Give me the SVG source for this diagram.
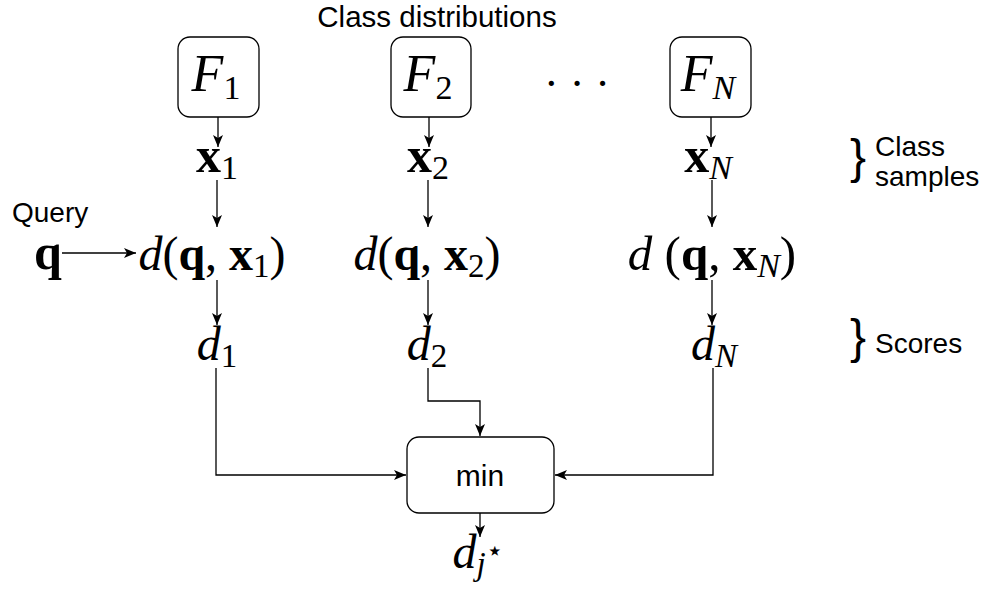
<svg xmlns="http://www.w3.org/2000/svg" width="989" height="590" viewBox="0 0 989 590">
<defs>
<marker id="arr" markerUnits="userSpaceOnUse" markerWidth="12" markerHeight="10" refX="12" refY="5" orient="auto">
<path d="M0,0 L12,5 L0,10 L3,5 Z" fill="#000"/>
</marker>
<style>
.box{fill:#fff;stroke:#000;stroke-width:1.3}
.ln{fill:none;stroke:#000;stroke-width:1.3;marker-end:url(#arr)}
.sans{font-family:"Liberation Sans",Arial,sans-serif;fill:#000}
.m{font-family:"Liberation Serif","DejaVu Serif",serif;fill:#000;text-anchor:middle}
.it{font-style:italic}
.bf{font-weight:bold}
</style>
</defs>
<rect width="989" height="590" fill="#fff"/>
<g id="title"><text class="sans" x="437" y="27" font-size="29.5" text-anchor="middle">Class distributions</text></g>
<g id="F1"><rect class="box" x="178" y="37" width="81" height="80" rx="12"/><text class="m" x="216" y="91" font-size="52"><tspan class="it">F</tspan><tspan font-size="34" dy="8">1</tspan></text></g>
<g id="F2"><rect class="box" x="391" y="37" width="80" height="80" rx="12"/><text class="m" x="428" y="91" font-size="52"><tspan class="it">F</tspan><tspan font-size="34" dy="8">2</tspan></text></g>
<g id="FN"><rect class="box" x="670" y="37" width="81" height="80" rx="12"/><text class="m" x="708" y="91" font-size="52"><tspan class="it">F</tspan><tspan class="it" font-size="34" dy="8">N</tspan></text></g>
<g id="dots"><text class="m" x="577" y="98" font-size="44">· · ·</text></g>
<g id="x1"><text class="m" x="217" y="172" font-size="50"><tspan class="bf">x</tspan><tspan font-size="34" dy="7">1</tspan></text></g>
<g id="x2"><text class="m" x="428" y="172" font-size="50"><tspan class="bf">x</tspan><tspan font-size="34" dy="7">2</tspan></text></g>
<g id="xN"><text class="m" x="708" y="172" font-size="50"><tspan class="bf">x</tspan><tspan class="it" font-size="34" dy="7">N</tspan></text></g>
<g id="samples-label"><text class="sans" x="850" y="173" font-size="48">}</text><text class="sans" x="875" y="156" font-size="28">Class</text><text class="sans" x="875" y="186" font-size="28">samples</text></g>
<g id="query"><text class="sans" x="12" y="222" font-size="28">Query</text><text class="m bf" x="48" y="269" font-size="50">q</text></g>
<g id="dqx1"><text class="m" x="212" y="270" font-size="48"><tspan class="it">d</tspan>(<tspan class="bf">q</tspan>, <tspan class="bf">x</tspan><tspan font-size="33" dy="7">1</tspan><tspan dy="-7">)</tspan></text></g>
<g id="dqx2"><text class="m" x="427" y="270" font-size="48"><tspan class="it">d</tspan>(<tspan class="bf">q</tspan>, <tspan class="bf">x</tspan><tspan font-size="33" dy="7">2</tspan><tspan dy="-7">)</tspan></text></g>
<g id="dqxN"><text class="m" x="712" y="270" font-size="49"><tspan class="it">d</tspan> (<tspan class="bf">q</tspan>, <tspan class="bf">x</tspan><tspan class="it" font-size="34" dy="7">N</tspan><tspan dy="-7">)</tspan></text></g>
<g id="d1"><text class="m" x="217" y="360" font-size="48"><tspan class="it">d</tspan><tspan font-size="33" dy="7">1</tspan></text></g>
<g id="d2"><text class="m" x="427" y="360" font-size="48"><tspan class="it">d</tspan><tspan font-size="33" dy="7">2</tspan></text></g>
<g id="dN"><text class="m" x="714" y="360" font-size="48"><tspan class="it">d</tspan><tspan class="it" font-size="33" dy="7">N</tspan></text></g>
<g id="scores-label"><text class="sans" x="850" y="353" font-size="48">}</text><text class="sans" x="875" y="353" font-size="28">Scores</text></g>
<g id="min"><rect class="box" x="407" y="437" width="147" height="76" rx="12"/><text class="sans" x="480" y="486" font-size="30" text-anchor="middle">min</text></g>
<g id="dj"><text class="m" x="478" y="568" font-size="48"><tspan class="it">d</tspan><tspan class="it" font-size="33" dy="7">j</tspan><tspan font-size="28" dy="-15">⋆</tspan></text></g>
<g id="connectors">
<path class="ln" d="M62,253 H136"/>
<path class="ln" d="M218,117 V147"/>
<path class="ln" d="M429,117 V147"/>
<path class="ln" d="M711,117 V147"/>
<path class="ln" d="M217,180 V227"/>
<path class="ln" d="M428,180 V227"/>
<path class="ln" d="M712,180 V227"/>
<path class="ln" d="M217,280 V325"/>
<path class="ln" d="M428,280 V325"/>
<path class="ln" d="M712,280 V325"/>
<path class="ln" d="M216,368 V475 H406"/>
<path class="ln" d="M428,368 V401 H480 V436"/>
<path class="ln" d="M713,368 V475 H555"/>
<path class="ln" d="M480,513 V537"/>
</g>
</svg>
